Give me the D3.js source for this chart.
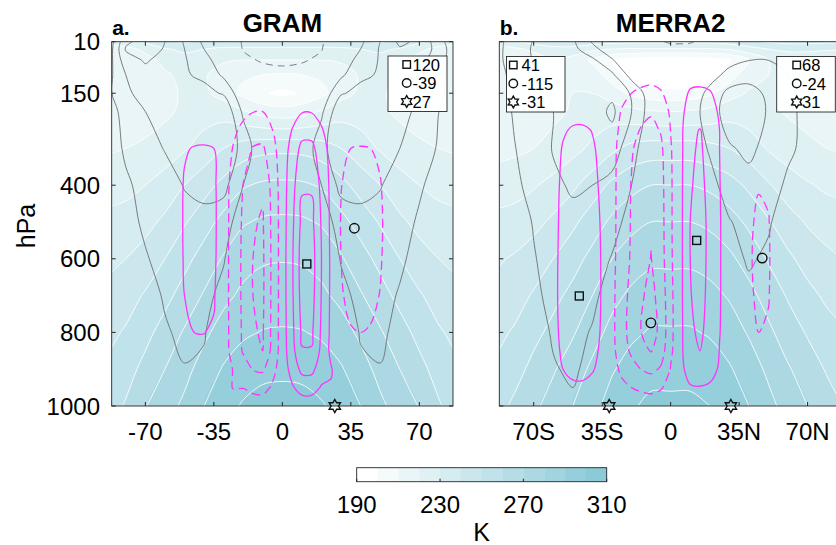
<!DOCTYPE html>
<html><head><meta charset="utf-8">
<script src="https://cdn.jsdelivr.net/npm/d3@7"></script>
<style>body{margin:0;background:#fff;}svg{display:block;font-family:"Liberation Sans",Arial,Helvetica,sans-serif;}</style>
</head><body>
<svg id="chart" width="836" height="545"></svg>
<script>
// ---------------- DATA ----------------
const gridLat = [-88,-80,-70,-60,-50,-40,-30,-20,-10,0,10,20,30,40,50,60,70,80,88];
const gridP = [10,30,60,100,150,200,300,400,500,600,700,800,900,1000];
const psiLat = [-65,-60,-55,-50,-45,-40,-35,-30,-25,-20,-15,-10,-5,0,5,10,15,20,25,30,35,40,45,50,55,60];
const psiP = [10,100,150,200,250,300,400,500,600,700,800,850,900,950,1000];

const tempLevels = [190,200,210,220,230,240,250,260,270,280,290,300,310];
const uLevels = [10,20,30];
const uNegLevels = [10];
const psiLevels = [20,60,100];
const xTicks = [-70,-35,0,35,70];
const xTickLabelsA = ["-70","-35","0","35","70"];
const xTickLabelsB = ["70S","35S","0","35N","70N"];
const yTicks = [10,150,400,600,800,1000];
const cbTicks = [190,230,270,310];

// temperature (K), rows = gridP, cols = gridLat
const tempGRAM = [
 [223,226,232,238,241,239,237,236,236,236,236,236,237,239,241,238,232,226,223],
 [215,217,222,229,232,230,228,228,228,228,228,228,228,230,232,229,222,217,215],
 [213,214,217,222,226,224,221,220,220,220,220,220,221,224,226,222,217,214,213],
 [212,213,215,219,222,221,216,212,210,209,210,212,216,221,222,219,215,213,212],
 [212,213,215,218,221,222,216,207,201,198,201,207,216,222,221,218,215,213,212],
 [212,213,215,218,222,226,226,221,216,214,216,221,226,226,222,218,215,213,212],
 [219,220,222,225,229,234,240,245,247.5,248,247.5,245,240,234,229,225,222,220,219],
 [226,227,230,234,240,246,253,259,261.5,262,261.5,259,253,246,240,234,230,227,226],
 [233,234,237,242,249,256,263,269,271.5,272,271.5,269,263,256,249,242,237,234,233],
 [238,240,244,250,257,264,271,276.5,279,279.5,279,276.5,271,264,257,250,244,240,238],
 [243,246,251,257,264,271,277.5,282,284,284.5,284,282,277.5,271,264,257,251,246,243],
 [248,251,257,264,271,278,284,288.5,290.5,291,290.5,288.5,284,278,271,264,257,251,248],
 [252,256,263,270,277,284,291,295,297.5,298,297.5,295,291,284,277,270,263,256,252],
 [256,261,269.5,276,282,290,296.5,301,303.5,304,303.5,301,296.5,290,282,276,269.5,261,256]
];
const tempMERRA2 = [
 [226,229,234,238,238,235,233,232,232,232,232,232,234,238,241,243,243,242,241],
 [216,218,222,226,226,222,220,219,219,219,219,219,221,226,230,232,232,231,231],
 [211,212,215,219,216,208,199,196,194,193,194,196,199,210,220,224,224,223,223],
 [211,212,214,217,219,215,205,195,191,190,191,195,205,216,220,220,219,218,218],
 [211,212,214,217,220,220,215,208,204,203,204,208,216,221,221,219,217,216,216],
 [212,213,215,218,221,224,225,223,221,220,221,223,226,225,222,219,217,216,216],
 [217,218,220,223,227,232,238,243,245,245,245,243,240,235,229,225,222,220,219],
 [225,226,229,233,238,245,252,257,260,260,260,258,254,248,241,235,231,228,227],
 [233,234,237,242,248,255,262,267,270,270,270,268,264,258,251,244,239,236,235],
 [239,241,245,250,256,263,270,275,278,278,278,276,272,266,259,252,246,242,240],
 [243,246,251,257,263,270,277,282,285,285,285,283,279,273,266,259,253,248,246],
 [248,251,257,263,269,276,283,288,291,291,291,289,285,279,272,265,259,254,251],
 [252,256,263,269,275,282,289,294,297,297,297,295,291,285,278,271,265,259,256],
 [257,262,268,274,280,287,294,299,302,302,302,300,296,290,283,276,270,264,260]
];
// zonal wind (m/s), rows = gridP, cols = gridLat
const uGRAM = [
 [5,28,34,30,19,8,-2,-11,-14,-15,-14,-11,-2,8,20,32,28,14,3],
 [6,31,36,29,20,10,0,-10.5,-13,-14,-13,-10.5,0,10,21,29,27,16,4],
 [7,26,31,27,21,13,5,-8,-11,-12,-11,-8,5,13,21,26,24,14,5],
 [8,20,27,25,21,18,8,-3,-6,-7,-6,-3,8,18,21,24,22,13,6],
 [9,18,24,24,23,23,19,2,-3,-4,-3,2,19,23,23,23,20,12,6],
 [8,12,20,24,25,27,29,8,0,-2,0,8,29,27,25,23,18,10,6],
 [7,11,16,20.5,23,25,27,17,1,-2,1,17,27,25,23,20,15,9,5],
 [6,9,12,16,20.5,22,23,10,0,-2,0,10,23,22,20.5,16,11,7,4],
 [5,8,11,14,17,18,14,5,-1,-3,-1,5,14,18,17,13,9,6,3],
 [4,6,9.5,12,14,14,10.5,3,-1,-3,-1,3,10.5,14,14,11,8,5,3],
 [3,5,8,10.5,12,12,8,2,-1,-2,-1,2,8,12,12,9.5,7,4,2],
 [2,4,6,9.5,11,10.5,5,1,-1,-2,-1,1,5,10.5,11,8.5,5,3,1],
 [1,3,4,7,9.8,9,3,0,-1,-1.5,-1,0,3,9,9.8,6,4,2,1],
 [0,2,3,5,7,6,1,-1,-2,-2,-2,-1,1,6,7,4,3,2,0]
];
const uMERRA2 = [
 [8,14,20.5,23,21.5,9,2,-4,-8,-11,-11,-6,0,5,6,4,3,2,1],
 [8,15,21,24,23,13,4,-2,-5,-7,-6,-2,3,8,8.5,7,5,3,2],
 [8,15,20.5,23,24,22,11,0,-3,-5,-3,2,7,9.8,9.9,8,5,3,2],
 [7,13,19,22,24,25,22,6,-1,-3,0,6,13,16,15,10,6,3,2],
 [6,12,18,21,23,25,28,19,4,-1,3,13,23,24,18,12,7,4,2],
 [5,11,17,20,22,25,32,20,5,0,5,15,25,26,19,12.5,7,4,2],
 [4,9.5,15,20.5,22,24,25,14,2,0,4,11,19,22,17,12,7,4,2],
 [3,8,13,18.5,21,20,17,10,1,0,2,7,14,17,15,8,5,3,2],
 [2,6,10.5,15,18,17,13,7,0,-1,1,4,9.5,13,11,5,3,2,1],
 [2,5,9.5,13,15,14,9.5,5,0,-1,0,2,7,11,8.5,4,2,1,1],
 [1,4,8.5,12,13.5,11.5,7,3,-1,-2,-1,1,5,8,6,3,2,1,0],
 [1,3,7,10.7,12,9.5,5,2,-1,-2,-2,0,3,5,4,2,1,0,0],
 [0,2,5,9.5,11,8,3,1,-1,-2,-2,-1,2,3,3,1,0,0,0],
 [0,1,3,6,9,5,1,0,-1,-1,-2,-1,1,2,2,1,0,0,0]
];
// mass streamfunction, rows = psiP, cols = psiLat
const psiGRAM = [
 [0,0,0,0,0,0,0,0,0,0,0,0,0,0,0,0,0,0,0,0,0,0,0,0,0,0],
 [0,0,0,0,0,0,0,0,0,0,0,0,0,0,0,0,0,0,0,0,0,0,0,0,0,0],
 [0,0,0,0,0,0,0,0,-2,-3,-5,-5,-3,0,2,5,5,2,0,0,0,0,0,0,0,0],
 [0,0,0,1,2,2,1,-1,-7,-13,-19,-20,-10,0,8,18,18,9,2,0,0,0,0,0,0,0],
 [0,0,0,5,6,7,6,-2,-14,-27,-40,-42,-20,0,21,44,44,23,5,-3,-5,-5,-5,-3,-1,0],
 [0,0,1,17,22,23,20,-3,-22,-42,-62,-66,-31,0,33,71,71,36,7,-12,-20,-22,-20,-14,-3,0],
 [0,0,2,23,30,31,27,-5,-32,-61,-90,-95,-45,0,45,96,96,49,10,-19,-31,-34,-30,-22,-4,0],
 [0,0,2,24,32,33,28,-5,-34,-66,-97,-103,-49,0,51,110,110,56,11,-22,-36,-39,-35,-25,-5,0],
 [0,0,2,23,30,31,27,-5,-35,-68,-100,-106,-50,0,55,118,118,60,12,-20,-33,-36,-32,-23,-5,0],
 [0,0,2,20,26,27,23,-5,-35,-68,-100,-106,-50,0,54,115,115,58,12,-17,-28,-30,-27,-19,-4,0],
 [0,0,1,15,20,20.5,17,-5,-34,-66,-97,-103,-49,0,50,106,106,54,11,-11,-18,-20,-18,-13,-3,0],
 [0,0,1,10,13,14,12,-5,-33,-64,-94,-100,-47,0,46,98,98,50,10,-7,-11,-12,-11,-8,-2,0],
 [0,0,0,5,6,7,6,-3,-22,-42,-62,-66,-31,0,33,71,71,36,22,-3,-5,-5,-5,-3,-1,0],
 [0,0,0,2,3,3,2,-6,-22,-21,-30,-32,-15,0,16,34,34,17,18,-1,-1,-1,0,0,0,0],
 [0,0,0,0,0,0,0,0,0,0,0,0,0,0,0,0,0,0,0,0,0,0,0,0,0,0]
];
const psiMERRA2 = [
 [0,0,0,0,0,0,0,0,0,0,0,0,0,0,0,0,0,0,0,0,0,0,0,0,0,0],
 [0,0,0,0,0,0,0,-1,-3,-5,-7,-8,-6,-2,1,4,5,4,2,0,0,0,0,0,0,0],
 [0,1,2,2,2,2,1,-3,-12,-20,-26,-30,-23,-8,4,25,28,23,9,2,0,0,0,0,0,0],
 [0,3,7,10,10,8,4,-5,-22,-36,-48,-55,-43,-14,7,40,45,36,15,3,0,0,0,0,0,0],
 [0,7,17,23,24,19,10,-6,-28,-47,-63,-72,-57,-19,9,54,61,50,20,5,0,0,0,0,0,0],
 [0,9,22,29,30,23,13,-8,-34,-56,-75,-86,-68,-23,9,56,63,51,20,5,0,-6,-8,-7,-3,0],
 [0,10,26,34,35,27,15,-8,-37,-62,-82,-94,-74,-25,10,58,66,53,21,5,0,-14,-19,-17,-6,0],
 [0,11,28,37,38,30,17,-8,-38,-63,-84,-97,-76,-25,10,60,68,55,22,5,0,-17,-23,-21,-8,0],
 [0,12,29,39,40,31,18,-9,-39,-65,-87,-101,-78,-26,10,60,68,55,22,5,0,-18,-24,-22,-8,0],
 [0,12,30,40,41,32,18,-10,-43,-72,-96,-110,-86,-29,10,59,67,54,22,5,0,-17,-23,-21,-8,0],
 [0,11,28,37,38,30,17,-10,-45,-75,-100,-115,-90,-30,9,56,64,52,21,5,0,-15,-20,-18,-7,0],
 [0,10,25,33,34,27,15,-9,-40,-67,-89,-102,-80,-27,9,53,60,48,19,4,0,-10,-14,-13,-5,0],
 [0,8,20,27,28,22,12,-6,-27,-46,-61,-70,-55,-18,7,40,45,36,15,3,0,-4,-6,-6,-2,0],
 [0,4,11,15,15,12,7,-3,-12,-20,-26,-30,-23,-8,3,16,18,14,6,1,0,0,0,0,0,0],
 [0,0,0,0,0,0,0,0,0,0,0,0,0,0,0,0,0,0,0,0,0,0,0,0,0,0]
];
// markers: [type, lat, pressure]
const markersGRAM = [["square",12.5,614],["circle",36.8,517],["star",26.8,1000]];
const markersMERRA2 = [["square",-46.7,701],["circle",-10.1,774],["star",-31.4,1000],
                       ["square",13.3,550],["circle",46.8,598],["star",30.8,1000]];
const legendGRAM = [["square","120"],["circle","-39"],["star","27"]];
const legendMERRA2S = [["square","41"],["circle","-115"],["star","-31"]];
const legendMERRA2N = [["square","68"],["circle","-24"],["star","31"]];

// ---------------- DRAWING ----------------
const svg = d3.select("#chart");
const Y0 = 41.7, Y1 = 406;
const yS = d3.scaleLinear().domain([10,1000]).range([Y0,Y1]);
const bandColor = d3.scaleOrdinal().domain(d3.range(12))
  .range(d3.range(12).map(i => d3.interpolateRgb("#ffffff","#8ccad8")(i/11)));
const axisColor = "#262626";

function makeMapper(lats, ps, xS){
  const nx = lats.length, ny = ps.length;
  const li = d3.scaleLinear().domain(d3.range(nx)).range(lats);
  const pi = d3.scaleLinear().domain(d3.range(ny)).range(ps);
  return ([cx,cy]) => {
    const tx = Math.max(0, Math.min(nx-1, cx-0.5));
    const ty = Math.max(0, Math.min(ny-1, cy-0.5));
    return [xS(li(tx)), yS(pi(ty))];
  };
}
function dedupe(pts){
  const out=[];
  pts.forEach(p=>{ const l=out[out.length-1]; if(!l || Math.abs(l[0]-p[0])>0.01 || Math.abs(l[1]-p[1])>0.01) out.push(p); });
  if(out.length>2){const a=out[0],b=out[out.length-1]; if(Math.abs(a[0]-b[0])<0.01&&Math.abs(a[1]-b[1])<0.01) out.pop();}
  return out;
}
const closedLine = d3.line().curve(d3.curveCatmullRomClosed.alpha(0.5));
const openLine = d3.line().curve(d3.curveCatmullRom.alpha(0.5));

function fillPaths(grid, lats, ps, thresholds, xS){
  const nx=lats.length, ny=ps.length, map=makeMapper(lats,ps,xS);
  return d3.contours().size([nx,ny]).thresholds(thresholds)(grid.flat()).map(c=>{
    let d="";
    c.coordinates.forEach(poly=>poly.forEach(ring=>{
      const pts = dedupe(ring.map(map));
      if(pts.length>2) d += closedLine(pts);
    }));
    return {value:c.value, d};
  });
}
function linePaths(grid, lats, ps, thresholds, sign, xS){
  const nx=lats.length, ny=ps.length, map=makeMapper(lats,ps,xS);
  const onB = p => p[0]<=0 || p[0]>=nx || p[1]<=0 || p[1]>=ny;
  const out=[];
  d3.contours().size([nx,ny]).thresholds(thresholds)(grid.flat().map(v=>sign*v)).forEach(c=>{
    let d="";
    c.coordinates.forEach(poly=>poly.forEach(ring=>{
      let r = ring.slice(0,-1);
      if(!r.some(onB)){
        const pts=dedupe(r.map(map)); if(pts.length>2) d+=closedLine(pts);
      } else {
        const k=r.findIndex(onB);
        const rot=r.slice(k).concat(r.slice(0,k));
        let cur=[];
        const flush=()=>{ const pts=dedupe(cur.map(map)); if(pts.length>1) d+=openLine(pts); cur=[]; };
        rot.forEach(p=>{ if(onB(p)) flush(); else cur.push(p); });
        flush();
      }
    }));
    out.push({value:c.value, d});
  });
  return out;
}
function starPath(x,y,R){
  const pts=d3.range(12).map(k=>{const a=-Math.PI/2+k*Math.PI/6, r=k%2===0?R:R*0.58; return [x+r*Math.cos(a), y+r*Math.sin(a)];});
  return "M"+pts.map(p=>p.join(",")).join("L")+"Z";
}
function drawMarker(g,type,x,y,s){
  let el;
  if(type==="square") el=g.append("rect").attr("x",x-s/2).attr("y",y-s/2).attr("width",s).attr("height",s);
  else if(type==="circle") el=g.append("circle").attr("cx",x).attr("cy",y).attr("r",s/2);
  else el=g.append("path").attr("d",starPath(x,y,s*0.65));
  el.attr("fill","none").attr("stroke","#111").attr("stroke-width",1.4);
}

const panels = [
  {id:"a", title:"GRAM", tag:"a.", x0:111.7, x1:453, dom:[-87.2,87.2], temp:tempGRAM, u:uGRAM, psi:psiGRAM,
   xLabels:xTickLabelsA, yLabels:true, markers:markersGRAM,
   legends:[{box:[388,56,59,55.5], mx:406.7, tx:412.5, items:legendGRAM}]},
  {id:"b", title:"MERRA2", tag:"b.", x0:499.3, x1:842, dom:[-87.6,87.6], temp:tempMERRA2, u:uMERRA2, psi:psiMERRA2,
   xLabels:xTickLabelsB, yLabels:false, markers:markersMERRA2,
   legends:[{box:[506.5,56.5,58.5,55.5], mx:513.3, tx:521.5, items:legendMERRA2S},
            {box:[776.7,56.5,58.6,55.5], mx:796.7, tx:802, items:legendMERRA2N}]}
];

const defs = svg.append("defs");
panels.forEach(P=>{
  const xS = d3.scaleLinear().domain(P.dom).range([P.x0,P.x1]);
  defs.append("clipPath").attr("id","clip"+P.id).append("rect")
    .attr("x",P.x0).attr("y",Y0).attr("width",P.x1-P.x0).attr("height",Y1-Y0);
  const g = svg.append("g").attr("clip-path",`url(#clip${P.id})`);
  g.append("rect").attr("x",P.x0).attr("y",Y0).attr("width",P.x1-P.x0).attr("height",Y1-Y0).attr("fill",bandColor(0));
  fillPaths(P.temp, gridLat, gridP, tempLevels.slice(1,-1), xS).forEach(f=>{
    const idx = tempLevels.indexOf(f.value);
    g.append("path").attr("d",f.d).attr("fill",bandColor(idx)).attr("fill-rule","evenodd").attr("stroke","none");
  });
  linePaths(P.temp, gridLat, gridP, tempLevels.slice(1,-1), 1, xS).forEach(l=>{
    g.append("path").attr("d",l.d).attr("fill","none").attr("stroke","#ffffff").attr("stroke-width",0.9).attr("stroke-opacity",0.95);
  });
  linePaths(P.u, gridLat, gridP, uLevels, 1, xS).forEach(l=>{
    g.append("path").attr("d",l.d).attr("fill","none").attr("stroke","#6e6e6e").attr("stroke-width",0.9);
  });
  linePaths(P.u, gridLat, gridP, uNegLevels, -1, xS).forEach(l=>{
    g.append("path").attr("d",l.d).attr("fill","none").attr("stroke","#6e6e6e").attr("stroke-width",0.9).attr("stroke-dasharray","7,5");
  });
  linePaths(P.psi, psiLat, psiP, psiLevels, 1, xS).forEach(l=>{
    g.append("path").attr("d",l.d).attr("fill","none").attr("stroke","#ff33ff").attr("stroke-width",1.3);
  });
  linePaths(P.psi, psiLat, psiP, psiLevels, -1, xS).forEach(l=>{
    g.append("path").attr("d",l.d).attr("fill","none").attr("stroke","#ff33ff").attr("stroke-width",1.3).attr("stroke-dasharray","9,5");
  });
  const ax = svg.append("g");
  ax.append("rect").attr("x",P.x0).attr("y",Y0).attr("width",P.x1-P.x0).attr("height",Y1-Y0)
    .attr("fill","none").attr("stroke",axisColor).attr("stroke-width",0.9);
  xTicks.forEach((t,i)=>{
    const x=xS(t);
    ax.append("line").attr("x1",x).attr("x2",x).attr("y1",Y1).attr("y2",Y1-4).attr("stroke",axisColor);
    ax.append("line").attr("x1",x).attr("x2",x).attr("y1",Y0).attr("y2",Y0+4).attr("stroke",axisColor);
    ax.append("text").attr("x",x).attr("y",440).attr("text-anchor","middle").attr("font-size",24).attr("fill","#000").text(P.xLabels[i]);
  });
  yTicks.forEach(t=>{
    const y=yS(t);
    ax.append("line").attr("x1",P.x0).attr("x2",P.x0+4).attr("y1",y).attr("y2",y).attr("stroke",axisColor);
    ax.append("line").attr("x1",P.x1).attr("x2",P.x1-4).attr("y1",y).attr("y2",y).attr("stroke",axisColor);
    if(P.yLabels) ax.append("text").attr("x",100).attr("y",y+8.6).attr("text-anchor","end").attr("font-size",24).attr("fill","#000").text(t);
  });
  P.markers.forEach(([type,lat,p])=>drawMarker(ax,type,xS(lat),yS(p),type==="square"?8:(type==="circle"?9.5:10)));
  P.legends.forEach(L=>{
    const [bx,by,bw,bh]=L.box;
    ax.append("rect").attr("x",bx).attr("y",by).attr("width",bw).attr("height",bh).attr("fill","#ffffff").attr("fill-opacity",0.95)
      .attr("stroke",axisColor).attr("stroke-width",0.9);
    L.items.forEach(([type,txt],i)=>{
      const cy = by + 8.5 + i*18.5;
      drawMarker(ax,type,L.mx,cy,type==="square"?7.5:(type==="circle"?8.5:9));
      ax.append("text").attr("x",L.tx).attr("y",cy+6).attr("font-size",16.5).attr("fill","#000").text(txt);
    });
  });
  svg.append("text").attr("x",(P.x0+P.x1)/2).attr("y",31.5).attr("text-anchor","middle").attr("font-weight","bold").attr("font-size",26).text(P.title);
  svg.append("text").attr("x",P.x0+0.5).attr("y",35).attr("font-weight","bold").attr("font-size",21).text(P.tag);
});

svg.append("text").attr("transform","translate(35,226) rotate(-90)").attr("text-anchor","middle").attr("font-size",25).text("hPa");

const cbX0=356.7, cbX1=606.7, cbY=467.7, cbH=14;
const cbS = d3.scaleLinear().domain([190,310]).range([cbX0,cbX1]);
const cb = svg.append("g");
d3.range(12).forEach(i=>{
  cb.append("rect").attr("x",cbS(tempLevels[i])).attr("y",cbY).attr("width",cbS(tempLevels[i+1])-cbS(tempLevels[i])+0.3).attr("height",cbH).attr("fill",bandColor(i));
});
cb.append("rect").attr("x",cbX0).attr("y",cbY).attr("width",cbX1-cbX0).attr("height",cbH).attr("fill","none").attr("stroke",axisColor).attr("stroke-width",0.9);
cbTicks.forEach(t=>{
  const x=cbS(t);
  cb.append("line").attr("x1",x).attr("x2",x).attr("y1",cbY+cbH).attr("y2",cbY+cbH-3).attr("stroke",axisColor);
  cb.append("text").attr("x",x).attr("y",513).attr("text-anchor","middle").attr("font-size",24).text(t);
});
cb.append("text").attr("x",481.7).attr("y",541).attr("text-anchor","middle").attr("font-size",25).text("K");
</script>
</body></html>
